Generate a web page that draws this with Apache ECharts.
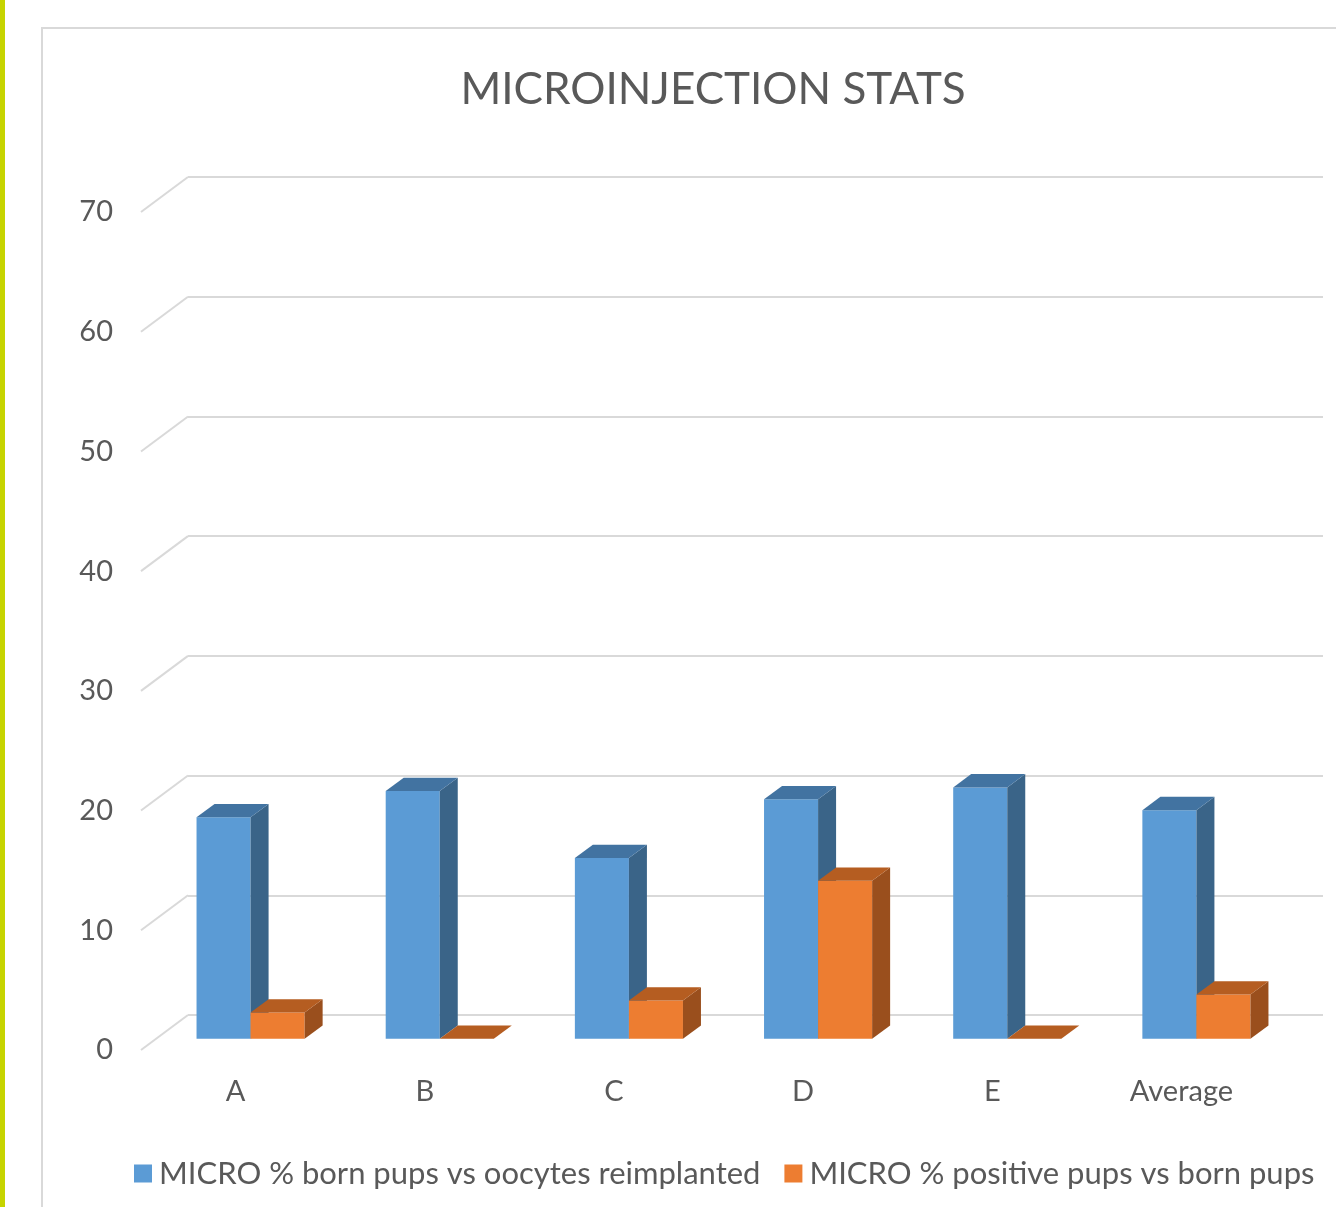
<!DOCTYPE html>
<html>
<head>
<meta charset="utf-8">
<title>Microinjection stats</title>
<script src="https://cdn.jsdelivr.net/npm/echarts@6/dist/echarts.min.js"></script>
<style>
  html, body { margin: 0; padding: 0; background: #ffffff; }
  #chart { width: 1336px; height: 1207px; }
</style>
</head>
<body>
<div id="chart"></div>
<script>
// Chart data
const categories = ['A', 'B', 'C', 'D', 'E', 'Average'];
const bornPups = [18.5, 20.7, 15.1, 20.0, 21.0, 19.1];
const positivePups = [2.2, 0, 3.2, 13.2, 0, 3.7];
const seriesNames = [
  'MICRO % born pups vs oocytes reimplanted',
  'MICRO % positive pups vs born pups'
];
const yTicks = [0, 10, 20, 30, 40, 50, 60, 70];

// Look of the pseudo-3D box
const FONT = 'Lato, "Open Sans", sans-serif';
const TEXT = '#595959';
const GRID_LINE = '#d9d9d9';
const FLOOR_DX = 47, FLOOR_DY = -35;     // front edge -> back wall
const PLANE_DX = 15, PLANE_DY = -11.2;   // front edge -> bar front face
const BAR_DX = 18, BAR_DY = -13.3;       // bar depth
const BAR_FRAC = 1 / 3.5;                // bar width as share of category band
const palette = [
  { front: '#5b9bd5', side: '#3a6488', top: '#4273a1' },
  { front: '#ed7d31', side: '#9a4f1d', top: '#b55d21' }
];

function barRenderer(idx) {
  const c = palette[idx];
  return function (params, api) {
    const cat = api.value(0);
    const val = api.value(1);
    const base = api.coord([cat, 0]);
    const top = api.coord([cat, val]);
    const w = api.size([1, 0])[0] * BAR_FRAC;
    const x0 = base[0] + PLANE_DX + (idx - 1) * w;
    const x1 = x0 + w;
    const yb = base[1] + PLANE_DY;
    const yt = top[1] + PLANE_DY;
    const children = [];
    if (yb - yt > 0.01) {
      children.push({
        type: 'rect',
        shape: { x: x0, y: yt, width: w, height: yb - yt },
        style: { fill: c.front }
      });
      children.push({
        type: 'polygon',
        shape: { points: [[x1, yb], [x1, yt], [x1 + BAR_DX, yt + BAR_DY], [x1 + BAR_DX, yb + BAR_DY]] },
        style: { fill: c.side }
      });
    }
    children.push({
      type: 'polygon',
      shape: { points: [[x0, yt], [x1, yt], [x1 + BAR_DX, yt + BAR_DY], [x0 + BAR_DX, yt + BAR_DY]] },
      style: { fill: c.top }
    });
    return { type: 'group', children: children };
  };
}

// Short side-wall strokes linking each front tick to the back wall
function sideWallRenderer(params, api) {
  const p = api.coord([0, api.value(1)]);
  const left = params.coordSys.x;
  return {
    type: 'line',
    shape: { x1: left, y1: p[1], x2: left + FLOOR_DX, y2: p[1] + FLOOR_DY },
    style: { stroke: GRID_LINE, lineWidth: 2 }
  };
}

const chart = echarts.init(document.getElementById('chart'), null, { renderer: 'canvas' });

chart.setOption({
  animation: false,
  backgroundColor: '#ffffff',
  textStyle: { fontFamily: FONT },
  title: {
    text: 'MICROINJECTION STATS',
    left: 708,
    top: 63,
    textAlign: 'center',
    textStyle: { fontFamily: FONT, fontSize: 44, fontWeight: 'normal', color: TEXT }
  },
  graphic: [
    { type: 'rect', shape: { x: 0, y: 0, width: 5, height: 1207 }, style: { fill: '#c6d400' }, silent: true },
    { type: 'rect', shape: { x: 42, y: 28, width: 1400, height: 1300 }, style: { fill: 'none', stroke: GRID_LINE, lineWidth: 2 }, silent: true, z: -1 }
  ],
  legend: {
    data: seriesNames,
    left: 129,
    top: 1153,
    icon: 'rect',
    itemWidth: 18,
    itemHeight: 18,
    itemGap: 24,
    textStyle: { fontFamily: FONT, fontSize: 31, color: TEXT, padding: [0, 0, 0, 2] }
  },
  grid: [
    { left: 141, top: 212, width: 1135, height: 838 },   // front edge
    { left: 188, top: 177, width: 1135, height: 838 }    // back wall
  ],
  xAxis: [
    {
      type: 'category', gridIndex: 0, data: categories,
      axisLine: { show: false }, axisTick: { show: false },
      axisLabel: { fontFamily: FONT, fontSize: 29, color: TEXT, margin: 27 }
    },
    {
      type: 'category', gridIndex: 1, data: categories,
      axisLine: { show: false }, axisTick: { show: false }, axisLabel: { show: false }
    }
  ],
  yAxis: [
    {
      type: 'value', gridIndex: 0, min: 0, max: 70, interval: 10,
      axisLine: { show: false }, axisTick: { show: false }, splitLine: { show: false },
      axisLabel: { fontFamily: FONT, fontSize: 29, color: TEXT, margin: 28, padding: [6, 0, 0, 0] }
    },
    {
      type: 'value', gridIndex: 1, min: 0, max: 70, interval: 10,
      axisLine: { show: false }, axisTick: { show: false }, axisLabel: { show: false },
      splitLine: { show: true, lineStyle: { color: GRID_LINE, width: 2 } }
    }
  ],
  series: [
    {
      type: 'custom', name: 'side wall', xAxisIndex: 0, yAxisIndex: 0, z: 1,
      renderItem: sideWallRenderer, silent: true,
      data: yTicks.map(v => [0, v])
    },
    {
      type: 'custom', name: seriesNames[0], xAxisIndex: 0, yAxisIndex: 0, z: 3,
      itemStyle: { color: palette[0].front },
      renderItem: barRenderer(0),
      data: bornPups.map((v, i) => [i, v])
    },
    {
      type: 'custom', name: seriesNames[1], xAxisIndex: 0, yAxisIndex: 0, z: 3,
      itemStyle: { color: palette[1].front },
      renderItem: barRenderer(1),
      data: positivePups.map((v, i) => [i, v])
    }
  ]
});
</script>
</body>
</html>
